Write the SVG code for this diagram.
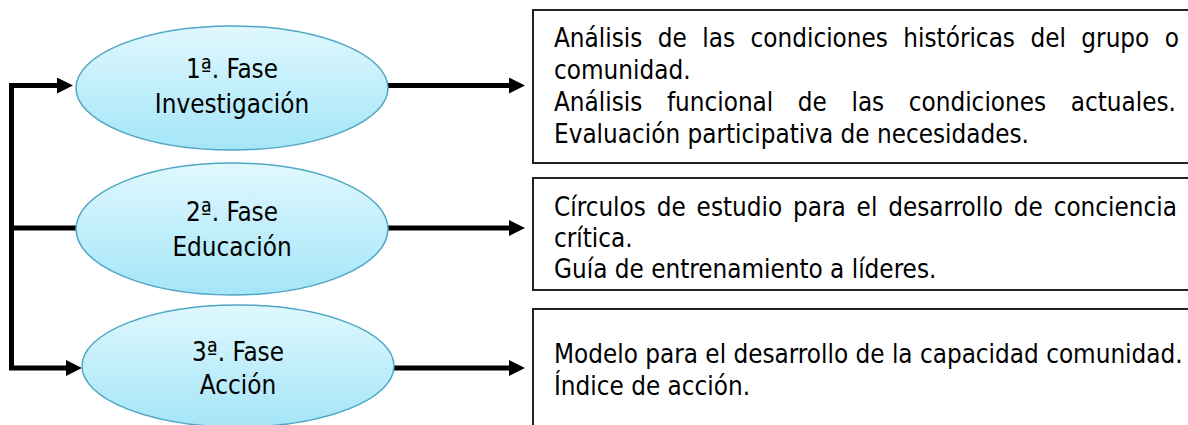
<svg xmlns="http://www.w3.org/2000/svg" width="1188" height="425" viewBox="0 0 1188 425">
<defs>
<linearGradient id="eg" x1="0" y1="0" x2="0" y2="1">
<stop offset="0" stop-color="#e0f8fe"/>
<stop offset="1" stop-color="#a4e5f8"/>
</linearGradient>
<marker id="ah" viewBox="0 0 16 16" refX="8" refY="8" markerWidth="16" markerHeight="16" markerUnits="userSpaceOnUse" orient="auto">
<path d="M0,0 L16,8 L0,16 z" fill="#000"/>
</marker>
<style>
.el{fill:url(#eg);stroke:#4ea7c4;stroke-width:1.5}
.bx{fill:#fff;stroke:#222;stroke-width:2}
.t{font-family:"DejaVu Sans Condensed","DejaVu Sans",sans-serif;font-stretch:condensed;font-size:25.8px;fill:#000}
.c{text-anchor:middle}
.cn{fill:none;stroke:#000;stroke-width:5;stroke-linejoin:miter}
</style>
</defs>
<rect width="1188" height="425" fill="#fff"/>
<g id="connectors">
<path class="cn" d="M11.5,228 V85.5 H65" marker-end="url(#ah)"/>
<path class="cn" d="M11.5,226 V368 H74" marker-end="url(#ah)"/>
<path class="cn" d="M11.5,228 H77"/>
<path class="cn" d="M388,85.5 H517" marker-end="url(#ah)"/>
<path class="cn" d="M388,228 H517" marker-end="url(#ah)"/>
<path class="cn" d="M394,368 H517" marker-end="url(#ah)"/>
</g>
<g id="fase1">
<ellipse class="el" cx="232" cy="88" rx="156" ry="62"/>
<text class="t c" x="232" y="78">1ª. Fase</text>
<text class="t c" x="232" y="113">Investigación</text>
</g>
<g id="fase2">
<ellipse class="el" cx="232" cy="229" rx="156" ry="66"/>
<text class="t c" x="232" y="221">2ª. Fase</text>
<text class="t c" x="232" y="256">Educación</text>
</g>
<g id="fase3">
<ellipse class="el" cx="238" cy="366" rx="156" ry="61"/>
<text class="t c" x="238" y="361">3ª. Fase</text>
<text class="t c" x="238" y="394">Acción</text>
</g>
<g id="box1">
<rect class="bx" x="533" y="10" width="680" height="153"/>
<text class="t" x="554" y="47" word-spacing="8.1">Análisis de las condiciones históricas del grupo o</text>
<text class="t" x="554" y="79">comunidad.</text>
<text class="t" x="554" y="111" word-spacing="17.2">Análisis funcional de las condiciones actuales.</text>
<text class="t" x="554" y="143">Evaluación participativa de necesidades.</text>
</g>
<g id="box2">
<rect class="bx" x="533" y="178" width="680" height="112"/>
<text class="t" x="554" y="216" word-spacing="3.5">Círculos de estudio para el desarrollo de conciencia</text>
<text class="t" x="554" y="247">crítica.</text>
<text class="t" x="554" y="278">Guía de entrenamiento a líderes.</text>
</g>
<g id="box3">
<rect class="bx" x="533" y="309" width="680" height="140"/>
<text class="t" x="554" y="363">Modelo para el desarrollo de la capacidad comunidad.</text>
<text class="t" x="554" y="395">Índice de acción.</text>
</g>
</svg>
